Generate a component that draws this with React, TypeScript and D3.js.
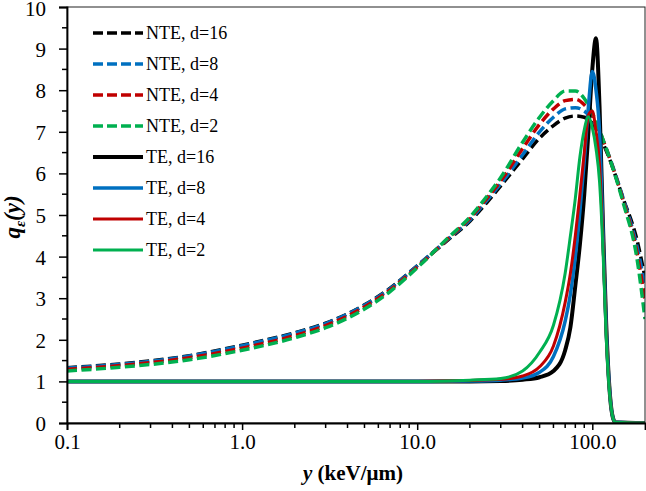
import React, { useRef, useEffect } from "react";
import * as d3 from "d3";

// NTE (dashed) curves, sampled at nteX
const nteX = [0.1, 0.2, 0.5, 1, 2, 3, 5, 7, 10, 15, 20, 25, 30, 40, 50, 60, 70, 80, 90, 100, 120, 150, 180, 200];
const nte16 = [1.33, 1.42, 1.62, 1.87, 2.17, 2.4, 2.84, 3.24, 3.78, 4.4, 4.85, 5.3, 5.7, 6.35, 6.85, 7.15, 7.33, 7.38, 7.35, 7.2, 6.55, 5.4, 4.4, 3.5];
const nte8 = [1.32, 1.41, 1.61, 1.86, 2.16, 2.39, 2.83, 3.23, 3.78, 4.42, 4.88, 5.35, 5.75, 6.45, 7.0, 7.35, 7.55, 7.58, 7.5, 7.3, 6.6, 5.4, 4.25, 3.3];
const nte4 = [1.29, 1.38, 1.57, 1.8, 2.1, 2.34, 2.79, 3.2, 3.75, 4.43, 4.92, 5.4, 5.82, 6.6, 7.18, 7.55, 7.75, 7.78, 7.65, 7.4, 6.6, 5.35, 4.1, 2.95];
const nte2 = [1.25, 1.34, 1.52, 1.75, 2.05, 2.29, 2.74, 3.16, 3.73, 4.45, 4.95, 5.45, 5.9, 6.75, 7.35, 7.75, 7.98, 7.98, 7.8, 7.45, 6.6, 5.3, 3.95, 2.5];

// TE (solid) curves, sampled at teX
const teX = [0.1, 1, 10, 20, 30, 40, 50, 60, 70, 75, 80, 85, 90, 95, 100, 105, 110, 115, 120, 125, 130, 135, 200];
const te16 = [1, 1, 1, 1.0, 1.01, 1.04, 1.1, 1.25, 1.75, 2.3, 3.3, 4.3, 5.5, 7.0, 8.5, 9.25, 7.6, 4.8, 2.4, 0.9, 0.2, 0.02, 0];
const te8 = [1, 1, 1, 1.01, 1.03, 1.08, 1.22, 1.6, 2.45, 3.1, 4.0, 5.1, 6.3, 7.6, 8.45, 8.0, 7.0, 4.6, 2.3, 0.9, 0.2, 0.02, 0];
const te4 = [1, 1, 1, 1.02, 1.05, 1.13, 1.35, 1.85, 2.9, 3.6, 4.5, 5.5, 6.5, 7.4, 7.5, 7.0, 6.2, 4.4, 2.2, 0.85, 0.2, 0.02, 0];
const te2 = [1, 1, 1.0, 1.03, 1.07, 1.25, 1.7, 2.35, 3.6, 4.5, 5.4, 6.4, 7.05, 7.36, 7.1, 6.6, 5.8, 4.2, 2.1, 0.8, 0.2, 0.02, 0];

const legendLabels = ["NTE, d=16", "NTE, d=8", "NTE, d=4", "NTE, d=2", "TE, d=16", "TE, d=8", "TE, d=4", "TE, d=2"];
const colors = ["#000000", "#0070C0", "#C00000", "#00B050"];

const xTicks = [0.1, 1, 10, 100];
const xTickLabels = ["0.1", "1.0", "10.0", "100.0"];
const xMinor = [0.2, 0.3, 0.4, 0.5, 0.6, 0.7, 0.8, 0.9, 2, 3, 4, 5, 6, 7, 8, 9, 20, 30, 40, 50, 60, 70, 80, 90];
const yTicks = [0, 1, 2, 3, 4, 5, 6, 7, 8, 9, 10];
const yMinor = [0.5, 1.5, 2.5, 3.5, 4.5, 5.5, 6.5, 7.5, 8.5, 9.5];

const App = () => {
  const ref = useRef<SVGSVGElement>(null);

  useEffect(() => {
    const width = 646;
    const height = 491;
    const left = 67, right = 645, top = 7, bottom = 423;
    const font = "Liberation Serif, Times New Roman, serif";

    const svg = d3.select(ref.current).attr("width", width).attr("height", height);
    svg.selectAll("*").remove();

    const x = d3.scaleLog().domain([0.1, 200]).range([left, right]);
    const y = d3.scaleLinear().domain([0, 10]).range([bottom, top]);

    svg.append("rect").attr("width", width).attr("height", height).attr("fill", "#fff");

    svg
      .append("clipPath")
      .attr("id", "plot-clip")
      .append("rect")
      .attr("x", left)
      .attr("y", top)
      .attr("width", right - left)
      .attr("height", bottom - top);

    const series = [
      { xs: nteX, ys: nte16, color: colors[0], dashed: true, w: 3.5 },
      { xs: nteX, ys: nte8, color: colors[1], dashed: true, w: 3.5 },
      { xs: nteX, ys: nte4, color: colors[2], dashed: true, w: 3.5 },
      { xs: nteX, ys: nte2, color: colors[3], dashed: true, w: 3.5 },
      { xs: teX, ys: te16, color: colors[0], dashed: false, w: 4 },
      { xs: teX, ys: te8, color: colors[1], dashed: false, w: 3.5 },
      { xs: teX, ys: te4, color: colors[2], dashed: false, w: 3 },
      { xs: teX, ys: te2, color: colors[3], dashed: false, w: 3 },
    ];

    const line = d3
      .line<[number, number]>()
      .x((d) => x(d[0]))
      .y((d) => y(d[1]))
      .curve(d3.curveMonotoneX);

    const plot = svg.append("g").attr("clip-path", "url(#plot-clip)");
    series.forEach((s) => {
      const pts = s.xs.map((v, i) => [v, s.ys[i]] as [number, number]);
      plot
        .append("path")
        .attr("d", line(pts))
        .attr("fill", "none")
        .attr("stroke", s.color)
        .attr("stroke-width", s.w)
        .attr("stroke-dasharray", s.dashed ? "10,4.5" : null);
    });

    // frame
    svg
      .append("rect")
      .attr("x", left)
      .attr("y", top)
      .attr("width", right - left)
      .attr("height", bottom - top)
      .attr("fill", "none")
      .attr("stroke", "#222")
      .attr("stroke-width", 1);

    // y axis
    const yAxis = svg
      .append("g")
      .attr("transform", `translate(${left},0)`)
      .call(d3.axisLeft(y).tickValues(yTicks).tickSize(8).tickPadding(13).tickFormat(d3.format("d")));
    yAxis.select(".domain").attr("stroke-width", 1.8);
    yAxis.selectAll(".tick line").attr("stroke-width", 1.5);
    yAxis
      .selectAll("text")
      .attr("font-family", font)
      .attr("font-size", 21)
      .attr("dy", (d) => (d === 10 ? "0.4em" : "0.36em"))
      .attr("fill", "#000");
    yAxis
      .selectAll(".minor")
      .data(yMinor)
      .enter()
      .append("line")
      .attr("x1", -5)
      .attr("x2", 0)
      .attr("y1", (d) => y(d))
      .attr("y2", (d) => y(d))
      .attr("stroke", "#000")
      .attr("stroke-width", 1.5);

    // x axis
    const xAxis = svg
      .append("g")
      .attr("transform", `translate(0,${bottom})`)
      .call(
        d3
          .axisBottom(x)
          .tickValues(xTicks)
          .tickSize(7)
          .tickPadding(4)
          .tickFormat((d, i) => xTickLabels[i])
      );
    xAxis.select(".domain").attr("stroke-width", 1.8);
    xAxis.selectAll(".tick line").attr("stroke-width", 1.5);
    xAxis.selectAll("text").attr("font-family", font).attr("font-size", 21).attr("fill", "#000");
    xAxis
      .selectAll(".minor")
      .data(xMinor)
      .enter()
      .append("line")
      .attr("x1", (d) => x(d))
      .attr("x2", (d) => x(d))
      .attr("y1", 0)
      .attr("y2", 5)
      .attr("stroke", "#000")
      .attr("stroke-width", 1.5);

    // axis titles
    const xt = svg
      .append("text")
      .attr("x", 353)
      .attr("y", 480)
      .attr("text-anchor", "middle")
      .attr("font-family", font)
      .attr("font-size", 21)
      .attr("font-weight", "bold");
    xt.append("tspan").attr("font-style", "italic").text("y");
    xt.append("tspan").text(" (keV/μm)");

    const yt = svg
      .append("text")
      .attr("transform", "translate(20,217) rotate(-90)")
      .attr("text-anchor", "middle")
      .attr("font-family", font)
      .attr("font-size", 23)
      .attr("font-weight", "bold")
      .attr("font-style", "italic");
    yt.append("tspan").text("q");
    yt.append("tspan").attr("font-size", 15).attr("dy", 5).text("ε");
    yt.append("tspan").attr("dy", -5).text("(y)");

    // legend
    const lg = svg.append("g");
    series.forEach((s, i) => {
      const ly = 33 + i * 31;
      lg.append("line")
        .attr("x1", 93)
        .attr("x2", 143)
        .attr("y1", ly)
        .attr("y2", ly)
        .attr("stroke", s.color)
        .attr("stroke-width", s.dashed ? 3.5 : s.w)
        .attr("stroke-dasharray", s.dashed ? "10,4" : null);
      lg.append("text")
        .attr("x", 146)
        .attr("y", ly)
        .attr("dy", "0.35em")
        .attr("font-family", font)
        .attr("font-size", 18)
        .attr("fill", "#000")
        .text(legendLabels[i]);
    });
  }, []);

  return (
    <div>
      <svg ref={ref} style={{ position: "absolute", left: 0, top: 0 }}></svg>
    </div>
  );
};

export default App;
